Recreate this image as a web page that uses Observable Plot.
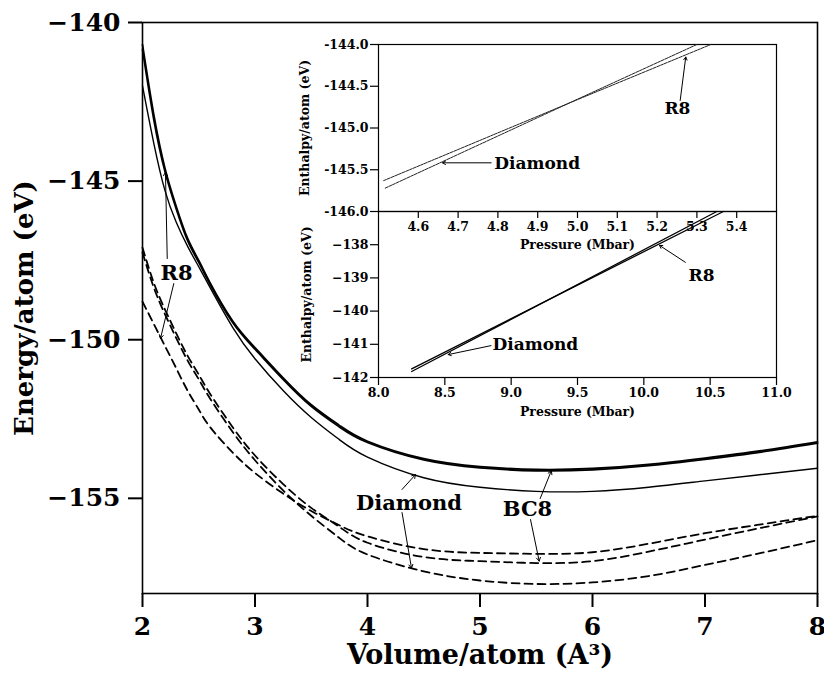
<!DOCTYPE html>
<html><head><meta charset="utf-8">
<script src="https://cdn.jsdelivr.net/npm/d3@7"></script>
<script src="https://cdn.jsdelivr.net/npm/@observablehq/plot@0.6"></script>
<style>
body{margin:0;background:#fff;}
#wrap{position:relative;width:824px;height:677px;overflow:hidden;}
#wrap svg{position:absolute;left:0;top:0;}
</style></head><body><div id="wrap"></div>
<script>
// ---- main panel data: energy (eV) vs volume/atom (A^3) ----
const volume       = [2.0, 2.1, 2.2, 2.3, 2.4, 2.5, 2.6, 2.8, 3.0, 3.25, 3.5, 3.75, 4.0, 4.5, 5.0, 5.5, 6.0, 6.5, 7.0, 7.5, 8.0];
const r8Solid      = [-140.7, -142.9, -144.6, -145.8, -146.8, -147.5, -148.2, -149.4, -150.25, -151.2, -152.05, -152.7, -153.2, -153.75, -154.0, -154.09, -154.06, -153.93, -153.73, -153.5, -153.22];
const bc8Solid     = [-140.85, -143.05, -144.7, -145.88, -146.87, -147.56, -148.25, -149.45, -150.3, -151.25, -152.1, -152.75, -153.24, -153.79, -154.04, -154.13, -154.1, -153.97, -153.77, -153.54, -153.26];
const diamondSolid = [-142.0, -143.8, -145.3, -146.3, -147.05, -147.7, -148.35, -149.6, -150.6, -151.6, -152.45, -153.15, -153.7, -154.35, -154.65, -154.78, -154.78, -154.65, -154.45, -154.25, -154.05];
const r8Dashed     = [-148.8, -149.5, -150.2, -150.9, -151.6, -152.2, -152.75, -153.55, -154.2, -154.85, -155.4, -155.85, -156.2, -156.6, -156.72, -156.75, -156.7, -156.43, -156.1, -155.82, -155.55];
const bc8Dashed    = [-147.1, -148.2, -149.05, -149.8, -150.5, -151.1, -151.7, -152.75, -153.65, -154.55, -155.3, -155.9, -156.4, -156.85, -156.98, -157.04, -156.98, -156.68, -156.3, -155.93, -155.57];
const diamondDashed= [-147.25, -148.35, -149.2, -149.95, -150.65, -151.25, -151.85, -152.9, -153.8, -154.75, -155.55, -156.25, -156.77, -157.3, -157.59, -157.7, -157.65, -157.45, -157.1, -156.72, -156.32];

const xTicksMain = [2, 3, 4, 5, 6, 7, 8];
const yTicksMain = [-155, -150, -145, -140];

// main annotations (label text, position in data units)
const mainLabelText = ["R8", "Diamond", "BC8"];
const mainLabelV    = [2.302, 4.369, 5.422];
const mainLabelE    = [-147.91, -155.16, -155.34];
// pointer lines: from (V1,E1) to arrow tip (V2,E2)
const mainPtrV1 = [2.22, 2.278, 4.307, 4.307, 5.535, 5.449];
const mainPtrE1 = [-147.44, -148.23, -154.72, -155.45, -155.006, -155.67];
const mainPtrV2 = [2.204, 2.16, 4.427, 4.391, 5.634, 5.526];
const mainPtrE2 = [-144.72, -149.96, -154.25, -157.2, -154.13, -156.98];

// ---- inset, upper panel: enthalpy vs pressure ----
const upR8P  = [4.513, 5.0, 5.335];
const upR8H  = [-145.63, -144.66, -144.0];
const upDiaP = [4.517, 5.0, 5.30];
const upDiaH = [-145.72, -144.655, -144.0];
const upXTicks = [4.6, 4.7, 4.8, 4.9, 5.0, 5.1, 5.2, 5.3, 5.4];
const upYTicks = [-146.0, -145.5, -145.0, -144.5, -144.0];
const upYTickLabels = ["-146.0", "-145.5", "-145.0", "-144.5", "-144.0"];
const upLabelText = ["Diamond", "R8"];
const upLabelP = [4.791, 5.251];
const upLabelH = [-145.425, -144.77];
const upPtrP1 = [4.783, 5.258];
const upPtrH1 = [-145.417, -144.67];
const upPtrP2 = [4.661, 5.272];
const upPtrH2 = [-145.417, -144.15];

// ---- inset, lower panel ----
const loR8P  = [8.25, 9.5, 10.60];
const loR8H  = [-141.74, -139.22, -137.0];
const loDiaP = [8.25, 9.5, 10.55];
const loDiaH = [-141.82, -139.20, -137.0];
const loXTicks = [8.0, 8.5, 9.0, 9.5, 10.0, 10.5, 11.0];
const loYTicks = [-142, -141, -140, -139, -138];
const loLabelText = ["Diamond", "R8"];
const loLabelP = [8.859, 10.435];
const loLabelH = [-141.0, -138.93];
const loPtrP1 = [8.848, 10.313];
const loPtrH1 = [-141.04, -138.53];
const loPtrP2 = [8.525, 10.118];
const loPtrH2 = [-141.31, -138.02];

const FONT = "DejaVu Serif";
const wrap = document.getElementById("wrap");
const fmt1 = d => (d < 0 ? "\u2212" : "") + Math.abs(d).toFixed(1);
const fmt0 = d => (d < 0 ? "\u2212" : "") + Math.abs(d).toFixed(0);

// ---------- build rows ----------
const curves = [
  {key: "R8 solid", dash: false, w: 1.8, vals: r8Solid},
  {key: "BC8 solid", dash: false, w: 1.8, vals: bc8Solid},
  {key: "Diamond solid", dash: false, w: 1.4, vals: diamondSolid},
  {key: "R8 dashed", dash: true, w: 1.8, vals: r8Dashed},
  {key: "BC8 dashed", dash: true, w: 1.8, vals: bc8Dashed},
  {key: "Diamond dashed", dash: true, w: 1.8, vals: diamondDashed}
];
const rows = curves.flatMap(c => volume.map((v, i) => ({V: v, E: c.vals[i], key: c.key, dash: c.dash, w: c.w})));
const mainLabels = mainLabelText.map((t, i) => ({t, V: mainLabelV[i], E: mainLabelE[i]}));
const mainPtrs = mainPtrV1.map((v, i) => ({x1: v, y1: mainPtrE1[i], x2: mainPtrV2[i], y2: mainPtrE2[i]}));

const mainPlot = Plot.plot({
  width: 824, height: 677,
  marginLeft: 142, marginRight: 7, marginTop: 22, marginBottom: 84,
  style: {fontFamily: FONT, fontWeight: "bold", color: "#000", background: "transparent", overflow: "visible"},
  x: {domain: [2, 8]},
  y: {domain: [-158, -140]},
  marks: [
    Plot.frame({stroke: "#000", strokeWidth: 1.6}),
    Plot.axisX({ticks: xTicksMain, tickSize: 14, tickPadding: 10, tickFormat: fmt0, fontSize: 25, strokeWidth: 2, label: null}),
    Plot.axisY({ticks: yTicksMain, tickSize: 14, tickPadding: 8, tickFormat: fmt0, fontSize: 25, strokeWidth: 2, label: null}),
    Plot.text(["Volume/atom (A³)"], {frameAnchor: "bottom", textAnchor: "middle", dy: 70, fontSize: 27, fontWeight: "bold"}),
    Plot.text(["Energy/atom (eV)"], {frameAnchor: "left", textAnchor: "middle", rotate: -90, dx: -118, fontSize: 26, fontWeight: "bold"}),
    Plot.line(rows.filter(d => !d.dash && d.w > 1.5), {x: "V", y: "E", z: "key", stroke: "#000", strokeWidth: 1.8, curve: "natural"}),
    Plot.line(rows.filter(d => !d.dash && d.w < 1.5), {x: "V", y: "E", z: "key", stroke: "#000", strokeWidth: 1.4, curve: "natural"}),
    Plot.line(rows.filter(d => d.dash), {x: "V", y: "E", z: "key", stroke: "#000", strokeWidth: 1.8, strokeDasharray: "8,5", curve: "natural"}),
    Plot.arrow(mainPtrs, {x1: "x1", y1: "y1", x2: "x2", y2: "y2", stroke: "#000", strokeWidth: 1, headLength: 6}),
    Plot.text(mainLabels, {x: "V", y: "E", text: "t", fontSize: 21, fontWeight: "bold", fill: "#000"})
  ]
});

// ---------- inset lower ----------
const loRows = [
  ...loR8P.map((p, i) => ({P: p, H: loR8H[i], key: "R8"})),
  ...loDiaP.map((p, i) => ({P: p, H: loDiaH[i], key: "Diamond"}))
];
const loLabels = loLabelText.map((t, i) => ({t, P: loLabelP[i], H: loLabelH[i]}));
const loPtrs = loPtrP1.map((p, i) => ({x1: p, y1: loPtrH1[i], x2: loPtrP2[i], y2: loPtrH2[i]}));

const loPlot = Plot.plot({
  width: 824, height: 677,
  marginLeft: 378, marginRight: 48, marginTop: 211, marginBottom: 300,
  style: {fontFamily: FONT, fontWeight: "bold", color: "#000", background: "transparent", overflow: "visible"},
  x: {domain: [8, 11]},
  y: {domain: [-142, -137]},
  marks: [
    Plot.frame({stroke: "#000", strokeWidth: 1.2}),
    Plot.axisX({ticks: loXTicks, tickSize: 8, tickPadding: 3, tickFormat: fmt1, fontSize: 12.5, strokeWidth: 1.2, label: null}),
    Plot.axisY({ticks: loYTicks, tickSize: 8, tickPadding: 2, tickFormat: fmt0, fontSize: 12.5, strokeWidth: 1.2, label: null}),
    Plot.text(["Pressure (Mbar)"], {frameAnchor: "bottom", textAnchor: "middle", dy: 38, fontSize: 12.5, fontWeight: "bold"}),
    Plot.text(["Enthalpy/atom (eV)"], {frameAnchor: "left", textAnchor: "middle", rotate: -90, dx: -72, fontSize: 12.5, fontWeight: "bold"}),
    Plot.line(loRows, {x: "P", y: "H", z: "key", stroke: "#000", strokeWidth: 1.3}),
    Plot.arrow(loPtrs, {x1: "x1", y1: "y1", x2: "x2", y2: "y2", stroke: "#000", strokeWidth: 1, headLength: 5}),
    Plot.text(loLabels, {x: "P", y: "H", text: "t", textAnchor: "start", fontSize: 17, fontWeight: "bold", filter: (d, i) => i === 0}),
    Plot.text(loLabels, {x: "P", y: "H", text: "t", textAnchor: "middle", fontSize: 17, fontWeight: "bold", filter: (d, i) => i === 1})
  ]
});

// ---------- inset upper ----------
const upRows = [
  ...upR8P.map((p, i) => ({P: p, H: upR8H[i], key: "R8"})),
  ...upDiaP.map((p, i) => ({P: p, H: upDiaH[i], key: "Diamond"}))
];
const upLabels = upLabelText.map((t, i) => ({t, P: upLabelP[i], H: upLabelH[i]}));
const upPtrs = upPtrP1.map((p, i) => ({x1: p, y1: upPtrH1[i], x2: upPtrP2[i], y2: upPtrH2[i]}));
const upTickRows = upYTicks.map((v, i) => ({v, s: upYTickLabels[i]}));

const upPlot = Plot.plot({
  width: 824, height: 677,
  marginLeft: 378, marginRight: 48, marginTop: 44, marginBottom: 466,
  style: {fontFamily: FONT, fontWeight: "bold", color: "#000", background: "transparent", overflow: "visible"},
  x: {domain: [4.5, 5.5]},
  y: {domain: [-146, -144]},
  marks: [
    Plot.frame({stroke: "#000", strokeWidth: 1.2}),
    Plot.axisX({ticks: upXTicks, tickSize: 7, tickPadding: 4, tickFormat: fmt1, fontSize: 12.5, strokeWidth: 1.2, label: null}),
    Plot.axisY({ticks: upYTicks, tickSize: 8, tickFormat: () => "", strokeWidth: 1.2, label: null}),
    Plot.text(upTickRows, {y: "v", text: "s", frameAnchor: "left", textAnchor: "end", dx: -10, fontSize: 12.5, fontWeight: "bold", fill: "#000", fontVariant: "normal"}),
    Plot.text(["Pressure (Mbar)"], {frameAnchor: "bottom", textAnchor: "middle", dy: 37, fontSize: 12.5, fontWeight: "bold"}),
    Plot.text(["Enthalpy/atom (eV)"], {frameAnchor: "left", textAnchor: "middle", rotate: -90, dx: -74, fontSize: 12.5, fontWeight: "bold"}),
    Plot.line(upRows, {x: "P", y: "H", z: "key", stroke: "#222", strokeWidth: 1, strokeDasharray: "3,1"}),
    Plot.arrow(upPtrs, {x1: "x1", y1: "y1", x2: "x2", y2: "y2", stroke: "#000", strokeWidth: 1, headLength: 5}),
    Plot.text(upLabels, {x: "P", y: "H", text: "t", textAnchor: "start", fontSize: 17, fontWeight: "bold", filter: (d, i) => i === 0}),
    Plot.text(upLabels, {x: "P", y: "H", text: "t", textAnchor: "middle", fontSize: 17, fontWeight: "bold", filter: (d, i) => i === 1})
  ]
});

wrap.appendChild(mainPlot);
wrap.appendChild(loPlot);
wrap.appendChild(upPlot);
</script>
</body></html>
